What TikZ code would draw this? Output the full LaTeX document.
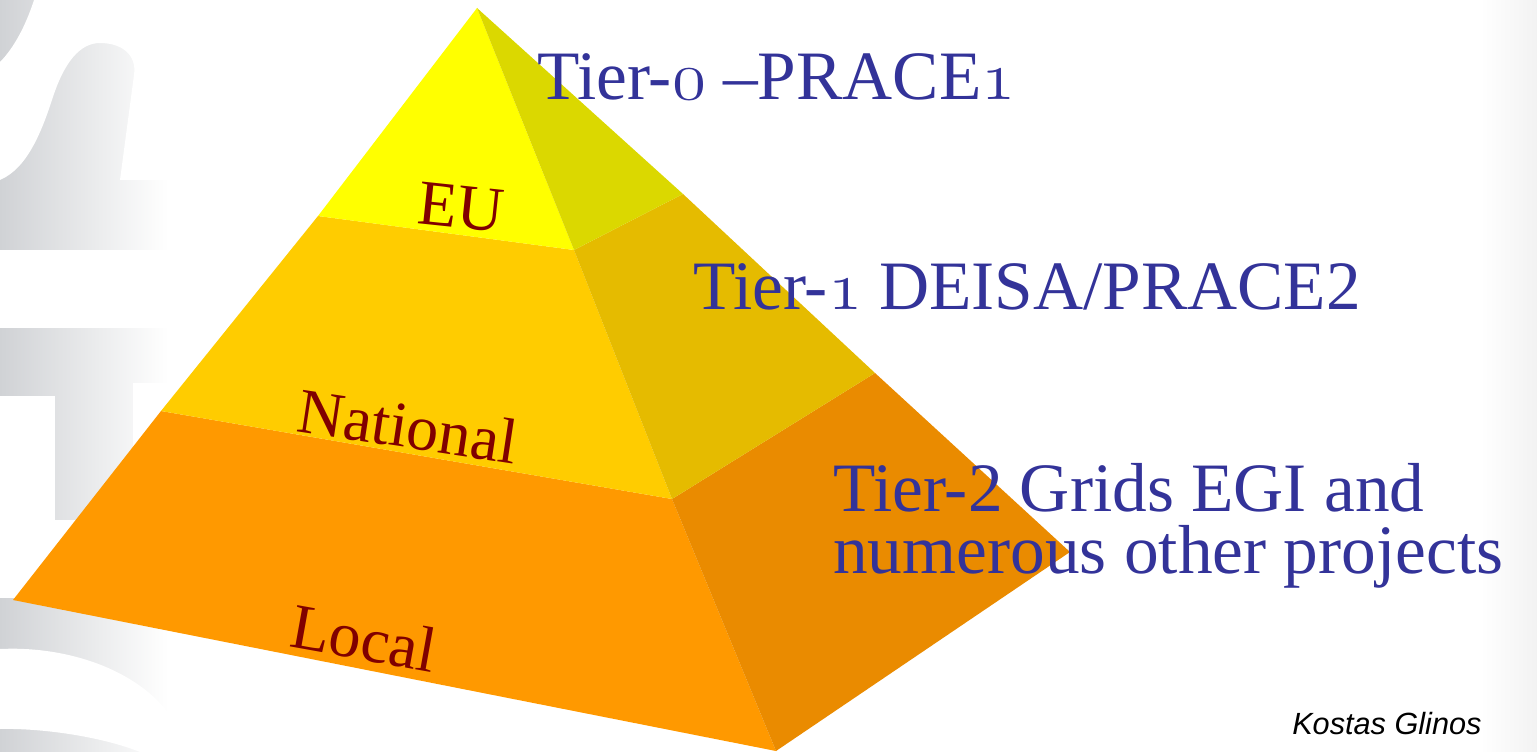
\documentclass[tikz,border=0pt]{standalone}
\usepackage{fontspec}
\setmainfont{Liberation Serif}
\setsansfont{Liberation Sans}
\usetikzlibrary{calc}
\definecolor{tierblue}{RGB}{51,51,153}
\definecolor{layerred}{RGB}{128,0,0}
\definecolor{euFront}{RGB}{255,255,0}
\definecolor{euSide}{RGB}{219,216,0}
\definecolor{natFront}{RGB}{255,204,0}
\definecolor{natSide}{RGB}{229,187,0}
\definecolor{locFront}{RGB}{255,153,0}
\definecolor{locSide}{RGB}{234,139,0}
\definecolor{wmgray}{RGB}{208,210,213}
\font\osfont=cmmi12 at 52pt
\newcommand{\osnum}[1]{{\osfont #1}}

\begin{document}
\begin{tikzpicture}[x=0.75pt, y=-0.75pt,
    tierlabel/.style={text=tierblue, font=\fontsize{52}{62}\selectfont, anchor=base west, inner sep=0pt},
    layerlabel/.style={text=layerred, font=\fontsize{48}{56}\selectfont, inner sep=0pt}]
    \useasboundingbox (0,0) rectangle (1537,752);
    % Watermark at the left edge
    \shade[left color=wmgray, right color=white] (0,0) rectangle (168,752);
    \fill[white] (34,0) .. controls (26,25) and (14,48) .. (0,62) -- (0,180)
        .. controls (28,168) and (42,130) .. (52,100) .. controls (64,62) and (80,43) .. (100,43)
        .. controls (122,43) and (137,55) .. (134,75) -- (120,180) -- (168,180) -- (168,0) -- cycle;
    \fill[white] (0,250) rectangle (168,328);
    \fill[white] (0,396) rectangle (55,520);
    \fill[white] (133,383) rectangle (168,520);
    \fill[white] (0,520) rectangle (168,598);
    \fill[white] (0,649) .. controls (60,646) and (130,665) .. (168,712) -- (168,752) -- (140,752)
        .. controls (100,736) and (40,728) .. (0,729) -- cycle;
    % Right edge shade
    \shade[left color=white, right color=black!5] (1480,0) rectangle (1537,752);
    % Pyramid corners
    \coordinate (apex) at (477,8);
    \coordinate (L0) at (13,600);
    \coordinate (L1) at (161,411);
    \coordinate (L2) at (318,216);
    \coordinate (F0) at (776,751);
    \coordinate (F1) at (672,499);
    \coordinate (F2) at (574,250);
    \coordinate (R0) at (1070,552);
    \coordinate (R1) at (875,373);
    \coordinate (R2) at (683,194);
    % Layers, front and side
    \fill[locFront] (L0) -- (F0) -- (F1) -- (L1) -- cycle;
    \fill[locSide] (F0) -- (R0) -- (R1) -- (F1) -- cycle;
    \fill[natFront] (L1) -- (F1) -- (F2) -- (L2) -- cycle;
    \fill[natSide] (F1) -- (R1) -- (R2) -- (F2) -- cycle;
    \fill[euFront] (L2) -- (F2) -- (apex) -- cycle;
    \fill[euSide] (F2) -- (R2) -- (apex) -- cycle;
    % Layer names
    \node[layerlabel, rotate=-6] (eu) at (461,207) {EU};
    \node[layerlabel, rotate=-8.6] (national) at (408,426) {National};
    \node[layerlabel, rotate=-10.2] (local) at (364,638) {Local};
    % Tiers
    \node[tierlabel] (tier0) at (537,100) {Tier-\osnum{0} --PRACE\osnum{1}};
    \node[tierlabel] (tier1) at (693,309) {Tier-\osnum{1} DEISA/PRACE2};
    \node[tierlabel] (tier2) at (833,511) {Tier-2 Grids EGI and};
    \node[tierlabel] (tier2b) at (833,573) {numerous other projects};
    % Source
    \node[font=\sffamily\itshape\fontsize{23}{27}\selectfont, anchor=base west, inner sep=0pt] (author) at (1292,734) {Kostas Glinos};
\end{tikzpicture}
\end{document}
